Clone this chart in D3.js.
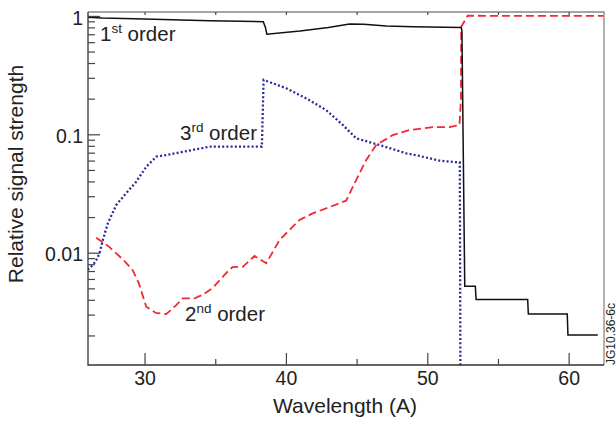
<!DOCTYPE html>
<html>
<head>
<meta charset="utf-8">
<script src="https://cdn.jsdelivr.net/npm/d3@7"></script>
<style>
  body { margin: 0; background: #fff; }
  text { font-family: "Liberation Sans", Arial, sans-serif; fill: #222; }
</style>
</head>
<body>
<script>
// values (wavelength in A, relative signal)
var first = [[26.0, 0.975], [27, 0.96], [30, 0.94], [34.6, 0.911], [38.4, 0.893], [38.55, 0.80], [38.65, 0.70],
  [41.0, 0.746], [43, 0.80], [44.5, 0.855], [45.5, 0.85], [47.1, 0.822], [49, 0.81], [52.4, 0.80],
  [52.45, 0.75], [52.65, 0.0052], [53.4, 0.0052], [53.45, 0.00403], [57.1, 0.00403], [57.15, 0.00303],
  [59.9, 0.00303], [59.95, 0.00202], [62.06, 0.00202]];
var second = [[26.58, 0.0134], [27.5, 0.0112], [28.51, 0.00868], [29.15, 0.00715], [29.6, 0.0055], [30.12, 0.0035],
  [30.8, 0.0031], [31.53, 0.00303], [32.24, 0.00361], [32.69, 0.00412], [33.54, 0.00412], [34.1, 0.0044],
  [34.81, 0.00503], [35.78, 0.00674], [36.22, 0.00757], [36.95, 0.0076], [37.78, 0.00938], [38.61, 0.00814],
  [39.55, 0.0128], [40.96, 0.0189], [41.9, 0.0215], [42.85, 0.0237], [44.26, 0.0275], [44.97, 0.0411],
  [45.68, 0.0607], [46.39, 0.0812], [47.56, 0.0986], [48.74, 0.1087], [50.37, 0.115], [51.57, 0.115],
  [52.28, 0.12], [52.38, 0.2], [52.4, 0.81], [52.86, 1.004], [55, 1.0], [62.46, 1.0]];
var third = [[25.97, 0.0072], [26.18, 0.0075], [26.53, 0.0084], [26.82, 0.0099], [27.05, 0.0128], [27.4, 0.0177],
  [28.0, 0.0253], [28.59, 0.0307], [29.41, 0.0398], [30.12, 0.0532], [30.83, 0.0647], [31.53, 0.0668],
  [34.6, 0.0786], [38.3, 0.0786], [38.42, 0.288], [40.02, 0.245], [41.44, 0.201], [42.85, 0.16],
  [44.02, 0.12], [44.97, 0.0925], [46.62, 0.0812], [48.51, 0.0691], [49.45, 0.0656], [50.86, 0.0599],
  [52.16, 0.058], [52.3, 0.058], [52.35, 0.0005]];

var xMajor = [30, 40, 50, 60];
var xMinor = [35, 45, 55];
var yMajor = [1, 0.1, 0.01];
var yMinor = [0.9, 0.8, 0.7, 0.6, 0.5, 0.4, 0.3, 0.2, 0.09, 0.08, 0.07, 0.06, 0.05, 0.04, 0.03, 0.02,
  0.009, 0.008, 0.007, 0.006, 0.005, 0.004, 0.003, 0.002];

var width = 616, height = 426;
var pL = 88, pT = 12, pR = 604, pB = 365;

var svg = d3.select("body").append("svg")
    .attr("width", width)
    .attr("height", height);

var x = d3.scaleLinear().domain([26, 62.5]).range([pL, pR]);
var y = d3.scaleLog().domain([0.001126, 1.079]).range([pB, pT]);

svg.append("clipPath").attr("id", "plot")
  .append("rect").attr("x", pL).attr("y", pT).attr("width", pR - pL).attr("height", pB - pT);

var line = d3.line().x(d => x(d[0])).y(d => y(d[1]));

var g = svg.append("g").attr("clip-path", "url(#plot)");
g.append("path").datum(third)
    .attr("d", line).attr("fill", "none")
    .attr("stroke", "#2a2a9c").attr("stroke-width", 2.3)
    .attr("stroke-dasharray", "2,2.2");
g.append("path").datum(second)
    .attr("d", line).attr("fill", "none")
    .attr("stroke", "#ee2a33").attr("stroke-width", 1.8)
    .attr("stroke-dasharray", "8,4");
g.append("path").datum(first)
    .attr("d", line).attr("fill", "none")
    .attr("stroke", "#111").attr("stroke-width", 1.5);

// frame
svg.append("path")
    .attr("d", "M" + pL + "," + pT + "H" + pR + "V" + pB)
    .attr("fill", "none").attr("stroke", "#888").attr("stroke-width", 1.3);
svg.append("path")
    .attr("d", "M" + pL + "," + pT + "V" + pB + "H" + pR)
    .attr("fill", "none").attr("stroke", "#333").attr("stroke-width", 1.3);

// axes (ticks inside)
var xa = svg.append("g").attr("transform", "translate(0," + pB + ")")
    .call(d3.axisBottom(x).tickValues(xMajor).tickSize(-12).tickPadding(6).tickFormat(d3.format("d")));
svg.append("g").attr("transform", "translate(0," + pB + ")")
    .call(d3.axisBottom(x).tickValues(xMinor).tickSize(-6).tickFormat(""));
svg.append("g").attr("transform", "translate(0," + pT + ")")
    .call(d3.axisTop(x).tickValues(xMajor.concat(xMinor)).tickSize(-3).tickFormat(""));

var ya = svg.append("g").attr("transform", "translate(" + pL + ",0)")
    .call(d3.axisLeft(y).tickValues(yMajor).tickSize(-12).tickPadding(5).tickFormat(d => String(d)));
svg.append("g").attr("transform", "translate(" + pL + ",0)")
    .call(d3.axisLeft(y).tickValues(yMinor).tickSize(-7).tickFormat(""));

svg.selectAll(".domain").remove();
svg.selectAll(".tick line").attr("stroke", "#444").attr("stroke-width", 1.2);
svg.selectAll(".tick text").style("font-size", "19.5px").attr("fill", "#222")
    .style("font-family", "'Liberation Sans', Arial, sans-serif");
ya.selectAll(".tick text").attr("dy", "0.42em");

// axis titles
svg.append("text")
    .attr("x", 345).attr("y", 413)
    .attr("text-anchor", "middle")
    .style("font-size", "21px")
    .text("Wavelength (A)");
svg.append("text")
    .attr("transform", "translate(23,174) rotate(-90)")
    .attr("text-anchor", "middle")
    .style("font-size", "21px")
    .text("Relative signal strength");

// curve labels
function orderLabel(px, py, num, sup) {
  var t = svg.append("text").attr("x", px).attr("y", py).style("font-size", "20.5px");
  t.append("tspan").text(num);
  t.append("tspan").attr("dy", -8).style("font-size", "13.5px").text(sup);
  t.append("tspan").attr("dy", 8).text(" order");
}
orderLabel(100, 41, "1", "st");
orderLabel(180, 140, "3", "rd");
orderLabel(185, 321, "2", "nd");

svg.append("text")
    .attr("transform", "translate(614.5,334) rotate(-90)")
    .attr("text-anchor", "middle")
    .style("font-size", "12px")
    .attr("fill", "#333")
    .text("JG10.36-6c");
</script>
</body>
</html>
